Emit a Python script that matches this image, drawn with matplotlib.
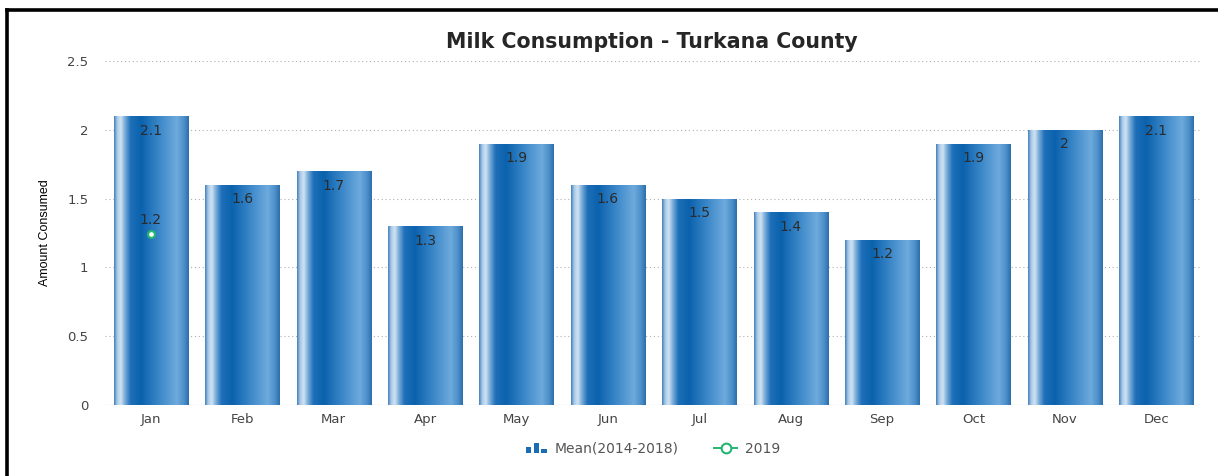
import numpy as np
import matplotlib
matplotlib.use("Agg")
import matplotlib.pyplot as plt
from matplotlib.colors import LinearSegmentedColormap
from matplotlib.legend_handler import HandlerBase
from matplotlib.patches import Rectangle
from matplotlib.lines import Line2D

months = ["Jan", "Feb", "Mar", "Apr", "May", "Jun",
          "Jul", "Aug", "Sep", "Oct", "Nov", "Dec"]
mean_2014_2018 = [2.1, 1.6, 1.7, 1.3, 1.9, 1.6, 1.5, 1.4, 1.2, 1.9, 2.0, 2.1]
months_2019 = ["Jan"]
values_2019 = [1.24]
y_ticks = [0, 0.5, 1, 1.5, 2, 2.5]
y_tick_labels = ["0", "0.5", "1", "1.5", "2", "2.5"]

plt.rcParams["font.family"] = ["DejaVu Sans"]

W, H = 1218, 476
fig = plt.figure(figsize=(W / 100, H / 100), dpi=100)
ax = fig.add_axes([105 / W, 71 / H, 1097 / W, 344 / H])

# horizontal shading used to give the bars a rounded, cylindrical look
bar_cmap = LinearSegmentedColormap.from_list("cyl", [
    (0.00, "#3f7fb8"),
    (0.04, "#a9c9e8"),
    (0.09, "#d2e3f3"),
    (0.14, "#7fb0dc"),
    (0.22, "#1e6fb8"),
    (0.36, "#0b62ad"),
    (0.60, "#3a86c8"),
    (0.84, "#6eaadc"),
    (0.94, "#4a8ec9"),
    (1.00, "#2c6ea9"),
])
grad = np.linspace(0, 1, 256).reshape(1, -1)

x = np.arange(len(months))
bar_width = 0.81
bars = ax.bar(x, mean_2014_2018, width=bar_width, color="#1a6db5",
              edgecolor="none", zorder=2)
for rect in bars:
    x0, y0 = rect.get_x(), rect.get_y()
    w, h = rect.get_width(), rect.get_height()
    im = ax.imshow(grad, extent=[x0, x0 + w, y0, y0 + h], aspect="auto",
                   cmap=bar_cmap, interpolation="bicubic", zorder=2.5)
    im.set_clip_path(rect)

for xi, v in zip(x, mean_2014_2018):
    ax.text(xi, v - 0.055, f"{v:g}", ha="center", va="top",
            fontsize=10, color="#2a2a2a", zorder=4)

# 2019 observations
x19 = [months.index(m) for m in months_2019]
ax.plot(x19, values_2019, linestyle="none", marker="o", markersize=5,
        markerfacecolor="white", markeredgecolor="#22b573",
        markeredgewidth=1.6, zorder=5)
for xi, v in zip(x19, values_2019):
    ax.text(xi, v + 0.05, f"{v:.1f}", ha="center", va="bottom",
            fontsize=10, color="#2a2a2a", zorder=5)

ax.set_xlim(-0.5, len(months) - 0.5)
ax.set_ylim(0, 2.5)
ax.set_yticks(y_ticks)
ax.set_yticklabels(y_tick_labels)
ax.set_xticks(x)
ax.set_xticklabels(months)
ax.tick_params(axis="both", length=0, labelsize=9.5, labelcolor="#444444")
ax.tick_params(axis="y", pad=12)
ax.tick_params(axis="x", pad=6)
for s in ax.spines.values():
    s.set_visible(False)
ax.axhline(0, color="#aaaaaa", lw=0.8, zorder=1)
for t in y_ticks[1:]:
    ax.axhline(t, color="#b0b0b0", lw=0.8, linestyle=(0, (1, 2.5)), zorder=1)

ax.set_ylabel("Amount Consumed", fontsize=9,
              family=["Liberation Sans Narrow", "Liberation Sans"],
              color="#000000")
ax.yaxis.set_label_coords(-0.049, 0.5)

fig.text(652 / W, 1 - 42 / H, "Milk Consumption - Turkana County",
         ha="center", va="center", fontsize=14.8, fontweight="bold",
         color="#262626")


class BarIconHandler(HandlerBase):
    def create_artists(self, legend, orig_handle, xdescent, ydescent,
                       width, height, fontsize, trans):
        heights = [0.6, 1.05, 0.4]
        bw = width / 4.2
        arts = []
        for i, hf in enumerate(heights):
            r = Rectangle((xdescent + i * bw * 1.45 + width * 0.1, -ydescent),
                          bw, height * hf, facecolor="#1a6db5",
                          edgecolor="none", transform=trans)
            arts.append(r)
        return arts


bar_handle = Rectangle((0, 0), 1, 1)
pt_handle = Line2D([], [], linestyle="-", color="#22b573", lw=1.4,
                   marker="o", markersize=7, markerfacecolor="white",
                   markeredgecolor="#22b573", markeredgewidth=1.5)
leg = fig.legend([bar_handle, pt_handle], ["Mean(2014-2018)", "2019"],
                 handler_map={Rectangle: BarIconHandler()},
                 loc="center", bbox_to_anchor=(652 / W, 1 - 449 / H),
                 ncol=2, frameon=False, fontsize=10, handlelength=1.6,
                 handletextpad=0.6, columnspacing=2.6)
for t in leg.get_texts():
    t.set_color("#555555")

# outer frame (left and top edges)
fig.add_artist(Line2D([7 / W, 7 / W], [0, 1 - 10 / H], color="black",
                      lw=2.6, transform=fig.transFigure))
fig.add_artist(Line2D([7 / W, 1], [1 - 10 / H, 1 - 10 / H], color="black",
                      lw=2.6, transform=fig.transFigure))

fig.savefig("out.png", dpi=100)
